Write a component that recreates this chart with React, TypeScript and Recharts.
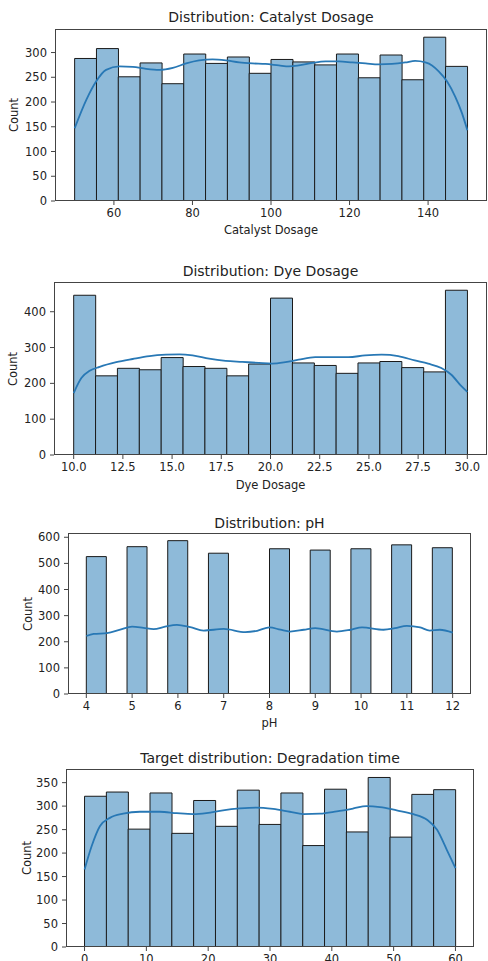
import React from 'react';
import { ComposedChart, Bar, Line, XAxis, YAxis } from 'recharts';

const FONT = '"DejaVu Sans", Verdana, sans-serif';
const TEXT = '#222222';
const FRAME = '#444444';
const BAR_FILL = '#8ebad9';
const BAR_EDGE = '#1a1a1a';
const KDE_COLOR = '#2878b5';

// ---------- Catalyst Dosage ----------
const catalystRange = [50, 150];
const catalystCounts = [288, 308, 251, 279, 237, 297, 278, 291, 258, 286, 281, 275, 297, 249, 295, 245, 331, 272];
const catalystKdeX = [50, 53, 55.5, 58, 61.4, 64.8, 68.2, 71.6, 75, 78.4, 81.7, 85.1, 88.5, 91.9, 95.3, 98.6, 102, 104.6, 107.1, 110.5, 113.9, 117.3, 120.7, 124.1, 127.4, 130.8, 134.2, 136.7, 139.3, 141, 142.7, 144.8, 146.9, 148.6, 150];
const catalystKdeY = [147, 205, 242, 265, 272, 271, 267, 265, 269, 278, 284, 286, 284, 280, 278, 277, 274, 272, 274, 279, 282, 282, 280, 278, 276, 277, 280, 283, 280, 274, 262, 242, 211, 178, 143];
const catalystXTicks = [60, 80, 100, 120, 140];
const catalystYTicks = [0, 50, 100, 150, 200, 250, 300];

// ---------- Dye Dosage ----------
const dyeRange = [10, 30];
const dyeCounts = [446, 221, 242, 238, 272, 247, 242, 221, 254, 438, 257, 250, 228, 257, 261, 244, 232, 460];
const dyeKdeX = [10, 10.39, 10.81, 11.32, 12.16, 13, 13.85, 14.69, 15.37, 16.04, 16.88, 17.72, 18.57, 19.41, 20.08, 20.76, 21.43, 22.27, 23.12, 23.96, 24.8, 25.65, 26.49, 27.33, 28.01, 28.68, 29.19, 29.7, 30];
const dyeKdeY = [173, 215, 235, 246, 259, 268, 276, 280, 281, 278, 269, 263, 260, 257, 255, 259, 266, 273, 273, 273, 278, 280, 276, 264, 255, 243, 224, 192, 176];
const dyeXTicks = [10, 12.5, 15, 17.5, 20, 22.5, 25, 27.5, 30];
const dyeYTicks = [0, 100, 200, 300, 400];

// ---------- pH ----------
const phRange = [4, 12];
const phCounts = [526, 0, 564, 0, 587, 0, 539, 0, 0, 556, 0, 551, 0, 556, 0, 571, 0, 560];
const phKdeX = [4, 4.16, 4.45, 4.74, 5, 5.25, 5.47, 5.72, 5.98, 6.27, 6.56, 7, 7.47, 7.73, 8, 8.24, 8.45, 8.75, 9, 9.47, 9.77, 10.02, 10.49, 10.74, 11, 11.29, 11.5, 11.72, 12];
const phKdeY = [222, 230, 233, 246, 258, 253, 248, 258, 265, 256, 243, 249, 237, 242, 255, 246, 239, 246, 252, 239, 246, 255, 246, 252, 261, 255, 243, 246, 235];
const phXTicks = [4, 5, 6, 7, 8, 9, 10, 11, 12];
const phYTicks = [0, 100, 200, 300, 400, 500, 600];

// ---------- Degradation time ----------
const degRange = [0, 60];
const degCounts = [321, 330, 251, 328, 242, 312, 257, 334, 261, 328, 216, 336, 245, 361, 234, 325, 335];
const degKdeX = [0, 1.13, 2.48, 4.1, 6.25, 8.95, 12.19, 14.9, 17.6, 19.7, 22.4, 25.1, 27.8, 30.5, 33.2, 35.4, 38.1, 40.8, 43.5, 45.6, 47.8, 50.5, 53.2, 55.4, 57, 58.6, 60];
const degKdeY = [165, 214, 257, 275, 284, 288, 288, 285, 283, 285, 291, 295, 297, 294, 288, 283, 284, 289, 295, 300, 298, 291, 283, 271, 250, 207, 168];
const degXTicks = [0, 10, 20, 30, 40, 50, 60];
const degYTicks = [0, 50, 100, 150, 200, 250, 300, 350];

type Panel = {
  title: string;
  xLabel: string;
  range: number[];
  counts: number[];
  kdeX: number[];
  kdeY: number[];
  xTicks: number[];
  yTicks: number[];
  fmt: (v: number) => string;
  box: { left: number; right: number; top: number; bottom: number };
  titleY: number;
  xLabelY: number;
  countX: number;
};

const panels: Panel[] = [
  {
    title: 'Distribution: Catalyst Dosage', xLabel: 'Catalyst Dosage', range: catalystRange, counts: catalystCounts,
    kdeX: catalystKdeX, kdeY: catalystKdeY, xTicks: catalystXTicks, yTicks: catalystYTicks, fmt: (v) => String(v),
    box: { left: 55, right: 487, top: 29, bottom: 201 }, titleY: 17, xLabelY: 230, countX: 14,
  },
  {
    title: 'Distribution: Dye Dosage', xLabel: 'Dye Dosage', range: dyeRange, counts: dyeCounts,
    kdeX: dyeKdeX, kdeY: dyeKdeY, xTicks: dyeXTicks, yTicks: dyeYTicks, fmt: (v) => v.toFixed(1),
    box: { left: 54, right: 487, top: 282, bottom: 455 }, titleY: 271, xLabelY: 485, countX: 12.5,
  },
  {
    title: 'Distribution: pH', xLabel: 'pH', range: phRange, counts: phCounts,
    kdeX: phKdeX, kdeY: phKdeY, xTicks: phXTicks, yTicks: phYTicks, fmt: (v) => String(v),
    box: { left: 68, right: 471, top: 533, bottom: 694 }, titleY: 523, xLabelY: 722.5, countX: 28,
  },
  {
    title: 'Target distribution: Degradation time', xLabel: '', range: degRange, counts: degCounts,
    kdeX: degKdeX, kdeY: degKdeY, xTicks: degXTicks, yTicks: degYTicks, fmt: (v) => String(v),
    box: { left: 66, right: 474, top: 769, bottom: 947 }, titleY: 758, xLabelY: 990, countX: 27,
  },
];

const Y_AXIS_W = 40;
const X_AXIS_H = 30;
const TOP_PAD = 29;

function HistPanel({ p }: { p: Panel }) {
  const [lo, hi] = p.range;
  const span = hi - lo;
  const domain: [number, number] = [lo - span * 0.05, hi + span * 0.05];
  const binW = span / p.counts.length;
  const bins = p.counts.map((c, i) => ({ x: lo + (i + 0.5) * binW, count: c }));
  const kde = p.kdeX.map((x, i) => ({ x, kde: p.kdeY[i] }));
  const yMax = Math.max(...p.counts) * 1.05;
  const plotH = p.box.bottom - p.box.top;
  const chartH = plotH + TOP_PAD + X_AXIS_H;
  const chartTop = p.box.top - TOP_PAD;
  const tickStyle = { fontSize: 11.5, fill: TEXT, fontFamily: FONT };
  const cx = (p.box.left + p.box.right) / 2;
  const cy = (p.box.top + p.box.bottom) / 2;
  return (
    <>
      <div style={{ position: 'absolute', left: 0, top: chartTop, width: 488, height: chartH }}>
        <ComposedChart
          width={488}
          height={chartH}
          data={bins}
          margin={{ top: TOP_PAD, right: 488 - p.box.right, bottom: 0, left: p.box.left - Y_AXIS_W }}
          barCategoryGap={0}
          barGap={0}
        >
          <XAxis
            xAxisId="bars"
            dataKey="x"
            type="number"
            domain={domain}
            allowDataOverflow
            ticks={p.xTicks}
            tickFormatter={p.fmt}
            interval={0}
            height={X_AXIS_H}
            axisLine={false}
            tickLine={{ stroke: FRAME }}
            tickSize={4}
            tickMargin={4}
            tick={tickStyle}
          />
          <XAxis xAxisId="kde" dataKey="x" type="number" domain={domain} allowDataOverflow hide />
          <YAxis
            type="number"
            domain={[0, yMax]}
            allowDataOverflow
            ticks={p.yTicks}
            interval={0}
            width={Y_AXIS_W}
            axisLine={false}
            tickLine={{ stroke: FRAME }}
            tickSize={4}
            tickMargin={4}
            tick={tickStyle}
          />
          <Bar
            xAxisId="bars"
            dataKey="count"
            fill={BAR_FILL}
            stroke={BAR_EDGE}
            strokeWidth={1}
            isAnimationActive={false}
          />
          <Line
            xAxisId="kde"
            data={kde}
            dataKey="kde"
            type="monotone"
            stroke={KDE_COLOR}
            strokeWidth={1.8}
            dot={false}
            isAnimationActive={false}
          />
        </ComposedChart>
      </div>
      <div
        style={{
          position: 'absolute', left: p.box.left, top: p.box.top,
          width: p.box.right - p.box.left, height: plotH,
          border: `1px solid ${FRAME}`, boxSizing: 'border-box', pointerEvents: 'none',
        }}
      />
      <div
        style={{
          position: 'absolute', left: p.box.left, width: p.box.right - p.box.left, top: p.titleY - 9,
          height: 18, lineHeight: '18px', textAlign: 'center', fontSize: 14, color: TEXT, fontFamily: FONT,
          whiteSpace: 'nowrap',
        }}
      >
        {p.title}
      </div>
      {p.xLabel ? (
        <div
          style={{
            position: 'absolute', left: cx - 100, width: 200, top: p.xLabelY - 8,
            height: 16, lineHeight: '16px', textAlign: 'center', fontSize: 11.5, color: TEXT, fontFamily: FONT,
          }}
        >
          {p.xLabel}
        </div>
      ) : null}
      <div
        style={{
          position: 'absolute', left: p.countX - 50, width: 100, top: cy - 8,
          height: 16, lineHeight: '16px', textAlign: 'center', fontSize: 11.5, color: TEXT, fontFamily: FONT,
          transform: 'rotate(-90deg)',
        }}
      >
        Count
      </div>
    </>
  );
}

export default function App() {
  return (
    <div
      style={{
        position: 'absolute', left: 0, top: 0, width: 488, height: 961, overflow: 'hidden',
        background: '#ffffff', fontFamily: FONT,
      }}
    >
      {panels.map((p) => (
        <HistPanel key={p.title} p={p} />
      ))}
    </div>
  );
}
